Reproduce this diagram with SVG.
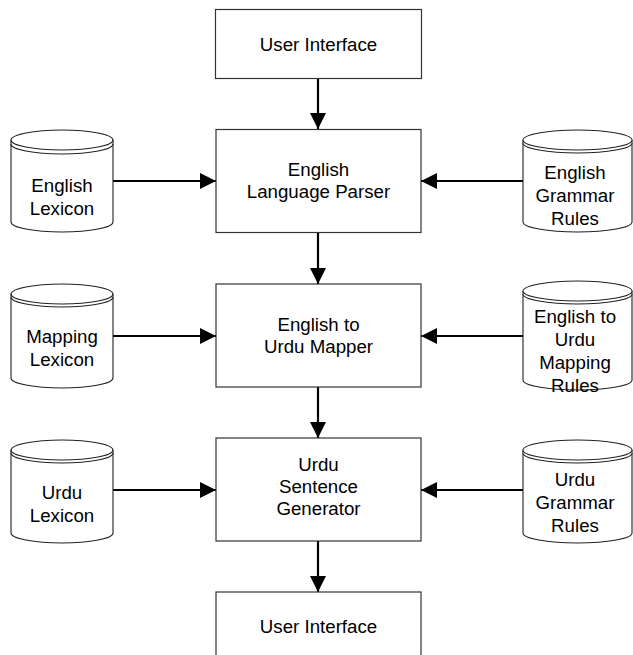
<svg xmlns="http://www.w3.org/2000/svg" width="633" height="655" viewBox="0 0 633 655">
<style>
.box{fill:#fff;stroke:#333;stroke-width:1.2}
.cyl{fill:#fff;stroke:#222;stroke-width:1.1}
.t{font-family:"Liberation Sans",Arial,sans-serif;font-size:18.7px;fill:#000;text-anchor:middle}
.c{stroke:#000;stroke-width:2.2;fill:none;marker-end:url(#ah)}
</style>
<defs>
<marker id="ah" markerUnits="userSpaceOnUse" markerWidth="16" markerHeight="16" refX="16" refY="8" orient="auto">
<path d="M0,0 L16,8 L0,16 z" fill="#000"/>
</marker>
</defs>
<rect width="633" height="655" fill="#fff"/>
<g id="connectors">
<line class="c" x1="318" y1="78" x2="318" y2="129"/>
<line class="c" x1="318" y1="232" x2="318" y2="284"/>
<line class="c" x1="318" y1="387" x2="318" y2="438"/>
<line class="c" x1="318" y1="541" x2="318" y2="592"/>
<line class="c" x1="113" y1="181" x2="216" y2="181"/>
<line class="c" x1="113" y1="336" x2="216" y2="336"/>
<line class="c" x1="113" y1="490" x2="216" y2="490"/>
<line class="c" x1="523" y1="181" x2="421" y2="181"/>
<line class="c" x1="523" y1="336" x2="421" y2="336"/>
<line class="c" x1="523" y1="490" x2="421" y2="490"/>
</g>
<g id="ui-top">
<rect class="box" x="215.5" y="9.5" width="206" height="69"/>
<text class="t" x="318.5" y="50.5">User Interface</text>
</g>
<g id="parser">
<rect class="box" x="216" y="129.5" width="205" height="103"/>
<text class="t" x="318.5" y="176">English</text>
<text class="t" x="318.5" y="198">Language Parser</text>
</g>
<g id="mapper">
<rect class="box" x="216" y="284" width="205" height="103"/>
<text class="t" x="318.5" y="331">English to</text>
<text class="t" x="318.5" y="353">Urdu Mapper</text>
</g>
<g id="generator">
<rect class="box" x="216" y="438" width="205" height="103"/>
<text class="t" x="318.5" y="470.5">Urdu</text>
<text class="t" x="318.5" y="492.5">Sentence</text>
<text class="t" x="318.5" y="514.5">Generator</text>
</g>
<g id="ui-bottom">
<rect class="box" x="216" y="592" width="205" height="80"/>
<text class="t" x="318.5" y="632.5">User Interface</text>
</g>
<g id="english-lexicon">
<path class="cyl" d="M11,140 A51,10 0 0 1 113,140 L113,222 A51,10 0 0 1 11,222 Z"/>
<path class="cyl" d="M11,140 A51,10 0 0 0 113,140 M11,144 A51,10 0 0 0 113,144" fill="none"/>
<text class="t" x="62" y="192">English</text>
<text class="t" x="62" y="215">Lexicon</text>
</g>
<g id="mapping-lexicon">
<path class="cyl" d="M11,294 A51,10 0 0 1 113,294 L113,378 A51,10 0 0 1 11,378 Z"/>
<path class="cyl" d="M11,294 A51,10 0 0 0 113,294 M11,297 A51,10 0 0 0 113,297" fill="none"/>
<text class="t" x="62" y="343">Mapping</text>
<text class="t" x="62" y="366">Lexicon</text>
</g>
<g id="urdu-lexicon">
<path class="cyl" d="M11,450 A51,10 0 0 1 113,450 L113,533 A51,10 0 0 1 11,533 Z"/>
<path class="cyl" d="M11,450 A51,10 0 0 0 113,450 M11,453 A51,10 0 0 0 113,453" fill="none"/>
<text class="t" x="62" y="499">Urdu</text>
<text class="t" x="62" y="522">Lexicon</text>
</g>
<g id="english-grammar-rules">
<path class="cyl" d="M523,140 A54.5,10 0 0 1 632,140 L632,222 A54.5,10 0 0 1 523,222 Z"/>
<path class="cyl" d="M523,140 A54.5,10 0 0 0 632,140 M523,143 A54.5,10 0 0 0 632,143" fill="none"/>
<text class="t" x="575" y="179">English</text>
<text class="t" x="575" y="202">Grammar</text>
<text class="t" x="575" y="225">Rules</text>
</g>
<g id="mapping-rules">
<path class="cyl" d="M523,291 A54.5,10 0 0 1 632,291 L632,380 A54.5,10 0 0 1 523,380 Z"/>
<path class="cyl" d="M523,291 A54.5,10 0 0 0 632,291 M523,294 A54.5,10 0 0 0 632,294" fill="none"/>
<text class="t" x="575" y="322.5">English to</text>
<text class="t" x="575" y="345.5">Urdu</text>
<text class="t" x="575" y="368.5">Mapping</text>
<text class="t" x="575" y="391.5">Rules</text>
</g>
<g id="urdu-grammar-rules">
<path class="cyl" d="M523,450 A54.5,10 0 0 1 632,450 L632,533 A54.5,10 0 0 1 523,533 Z"/>
<path class="cyl" d="M523,450 A54.5,10 0 0 0 632,450 M523,453 A54.5,10 0 0 0 632,453" fill="none"/>
<text class="t" x="575" y="486">Urdu</text>
<text class="t" x="575" y="509">Grammar</text>
<text class="t" x="575" y="532">Rules</text>
</g>
</svg>
